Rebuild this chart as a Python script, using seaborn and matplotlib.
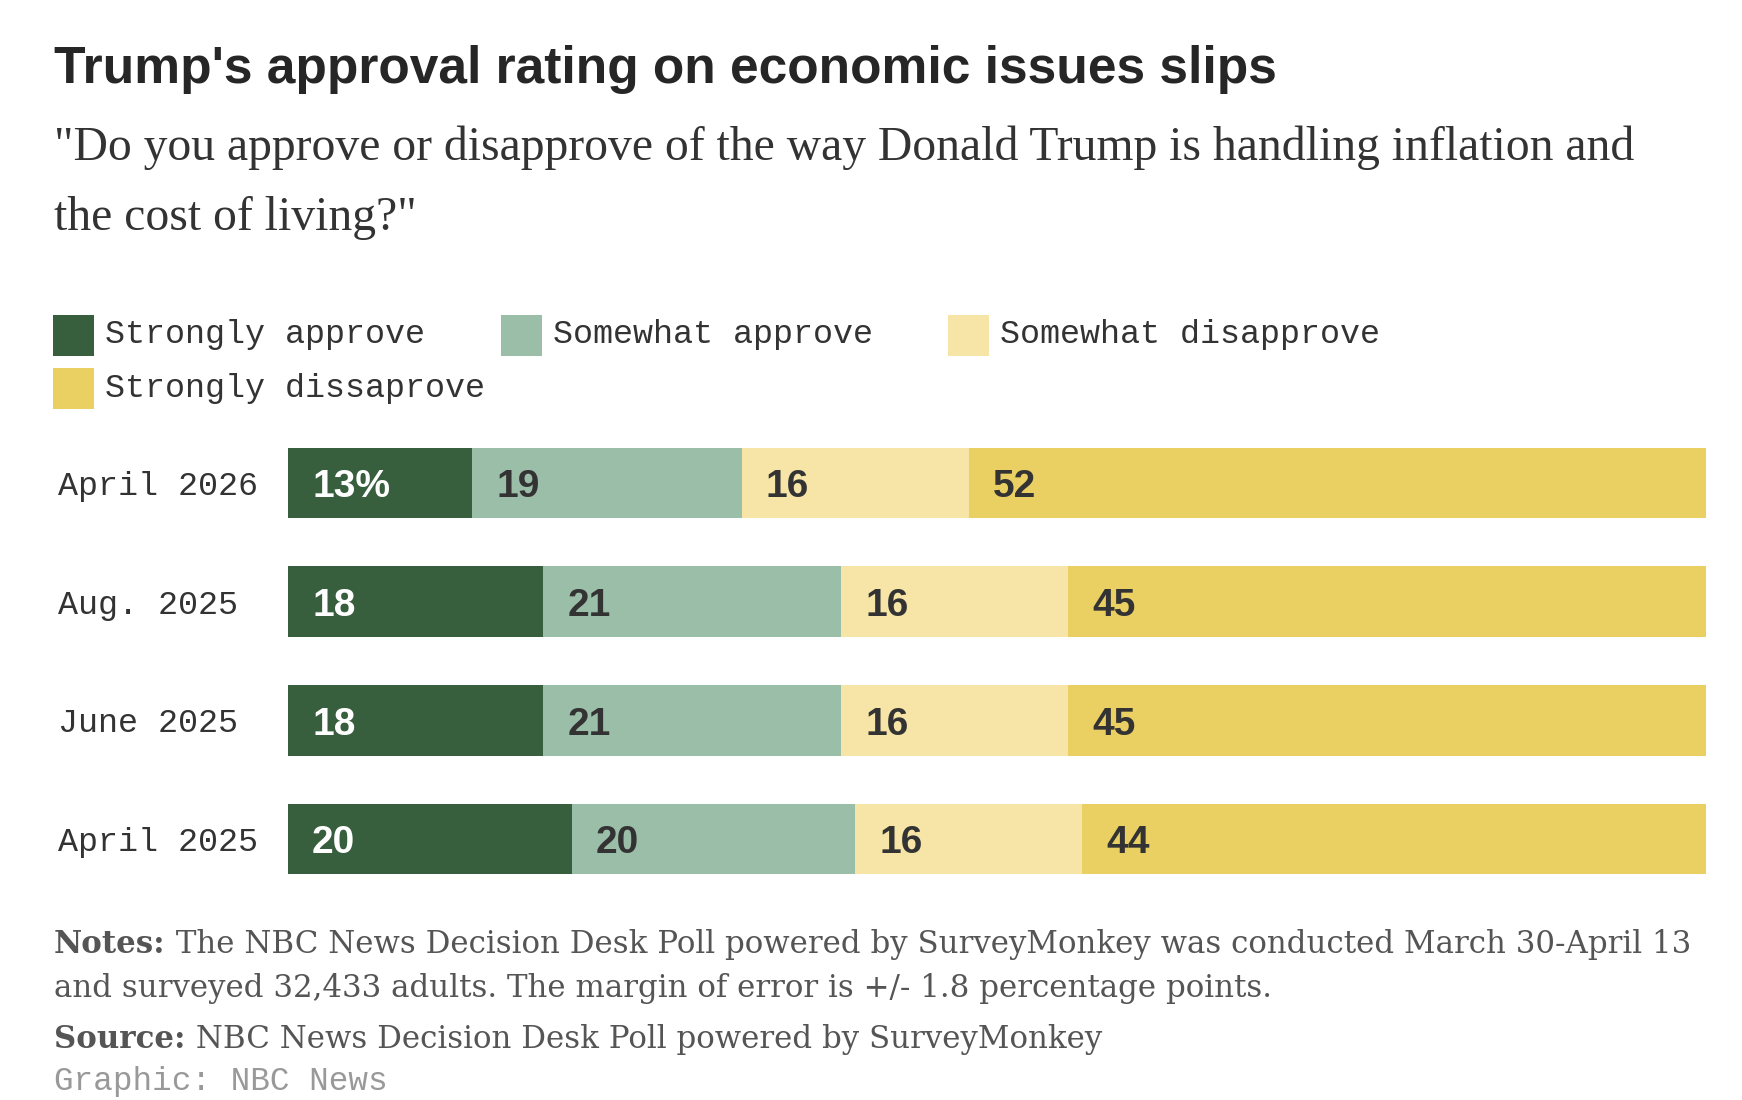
import matplotlib.pyplot as plt
from matplotlib.patches import Rectangle
import seaborn as sns
import pandas as pd
import numpy as np

# poll data, top row first
dates = ["April 2026", "Aug. 2025", "June 2025", "April 2025"]
strongly_approve = [13, 18, 18, 20]
somewhat_approve = [19, 21, 21, 20]
somewhat_disapprove = [16, 16, 16, 16]
strongly_disapprove = [52, 45, 45, 44]

series_names = ["Strongly approve", "Somewhat approve",
                "Somewhat disapprove", "Strongly dissaprove"]
colors = ["#375e3d", "#9bbea8", "#f7e5a8", "#ead063"]
label_colors = ["white", "#333333", "#333333", "#333333"]

title = "Trump's approval rating on economic issues slips"
subtitle1 = '"Do you approve or disapprove of the way Donald Trump is handling inflation and'
subtitle2 = 'the cost of living?"'
notes1 = " The NBC News Decision Desk Poll powered by SurveyMonkey was conducted March 30-April 13"
notes2 = "and surveyed 32,433 adults. The margin of error is +/- 1.8 percentage points."
source = " NBC News Decision Desk Poll powered by SurveyMonkey"
credit = "Graphic: NBC News"

df = pd.DataFrame({
    series_names[0]: strongly_approve,
    series_names[1]: somewhat_approve,
    series_names[2]: somewhat_disapprove,
    series_names[3]: strongly_disapprove,
}, index=dates)
cum = df.cumsum(axis=1)
long = cum.reset_index(names="date").melt(id_vars="date", var_name="series", value_name="cum")

sns.set_style("white")
W, H = 1742, 1100
fig = plt.figure(figsize=(W / 100, H / 100), dpi=100)
fig.patch.set_facecolor("white")

MONO = ["Liberation Mono", "DejaVu Sans Mono"]
SERIF = ["Liberation Serif", "DejaVu Serif"]
NOTE_SERIF = ["DejaVu Serif"]
NARROW = ["Liberation Sans Narrow", "Liberation Sans", "DejaVu Sans"]


def fy(y):
    return 1 - y / H


def fit(t, target):
    r = fig.canvas.get_renderer()
    w = t.get_window_extent(r).width
    t.set_fontsize(t.get_fontsize() * target / w)
    return t.get_fontsize()


# title + subtitle
t = fig.text(54 / W, fy(83), title, fontsize=46, fontweight="bold", family=NARROW,
             color="#262626", va="baseline")
fit(t, 1223)
s1 = fig.text(54 / W, fy(160), subtitle1, fontsize=30, family=SERIF, color="#333333", va="baseline")
ssize = fit(s1, 1581)
fig.text(54 / W, fy(230), subtitle2, fontsize=ssize, family=SERIF, color="#333333", va="baseline")

# legend, laid out as a 3-column grid
for i, (name, c) in enumerate(zip(series_names, colors)):
    col, row = i % 3, i // 3
    x0 = 53 + col * 447.5
    yc = 335 + row * 53
    fig.add_artist(Rectangle((x0 / W, fy(yc + 20.5)), 41 / W, 41 / H,
                             transform=fig.transFigure, facecolor=c, edgecolor="none"))
    fig.text((x0 + 52) / W, fy(yc), name, fontsize=24, family=MONO, color="#333333", va="center")

# stacked bars: draw cumulative totals from widest to narrowest
ax = fig.add_axes([288 / W, fy(898.3), 1418 / W, 474.7 / H])
for name, c in reversed(list(zip(series_names, colors))):
    sns.barplot(data=long[long["series"] == name], x="cum", y="date", order=dates,
                orient="h", color=c, saturation=1, width=0.594, linewidth=0,
                errorbar=None, ax=ax)

for j, d in enumerate(dates):
    for i, name in enumerate(series_names):
        val = df.loc[d, name]
        start = cum.loc[d, name] - val
        txt = f"{val}%" if (i == 0 and j == 0) else f"{val}"
        ax.annotate(txt, xy=(start, j), xytext=(24 * 0.72, -4.5 * 0.72), textcoords="offset points",
                    ha="left", va="center", fontsize=28, fontweight="bold",
                    family=NARROW, color=label_colors[i])

ax.set_xlim(0, 100)
ax.set_ylim(3.5, -0.5)
ax.set_xticks([])
ax.set_xlabel("")
ax.set_ylabel("")
ax.set_yticks(range(len(dates)))
ax.set_yticklabels(dates, ha="left", fontsize=24, family=MONO, color="#333333")
ax.tick_params(axis="y", length=0, pad=(288 - 58) * 0.72)
sns.despine(ax=ax, left=True, bottom=True)


# notes / source
def rich_line(y, bold, rest, size):
    t1 = fig.text(54 / W, fy(y), bold, fontsize=size, fontweight="bold", family=NOTE_SERIF,
                  color="#555555", va="baseline")
    bb = t1.get_window_extent(fig.canvas.get_renderer())
    fig.text(bb.x1 / W, fy(y), rest, fontsize=size, family=NOTE_SERIF, color="#555555", va="baseline")


nsize = 22.2
rich_line(953, "Notes:", notes1, nsize)
fig.text(54 / W, fy(997), notes2, fontsize=nsize, family=NOTE_SERIF, color="#555555", va="baseline")
rich_line(1048, "Source:", source, nsize)
fig.text(54 / W, fy(1090), credit, fontsize=23.5, family=MONO, color="#999999", va="baseline")

fig.savefig("out.png", dpi=100, facecolor="white")
